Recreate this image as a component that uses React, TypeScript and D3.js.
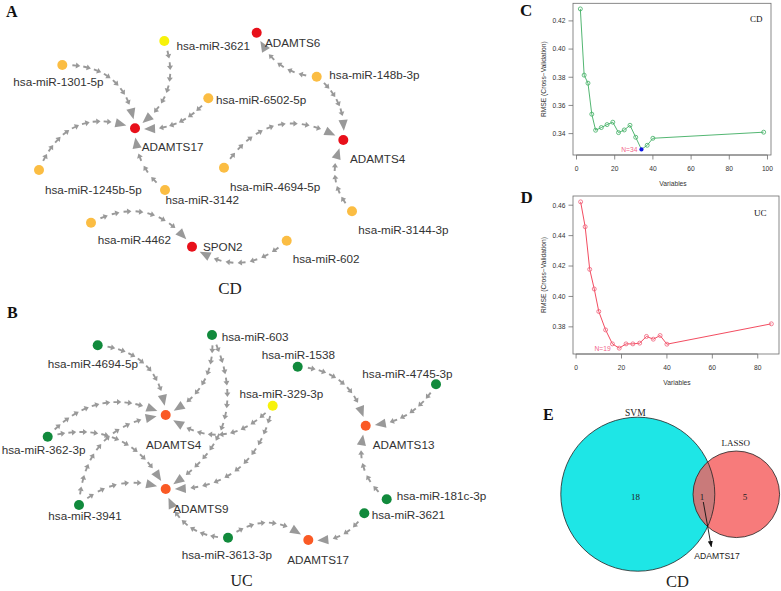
import React from 'react';
import * as d3 from 'd3';

// ---------------- DATA ----------------
// Panel A: CD network
const cdGenes = ['ADAMTS17', 'ADAMTS6', 'ADAMTS4', 'SPON2'];
const cdMirs = ['hsa-miR-3621', 'hsa-miR-1301-5p', 'hsa-miR-6502-5p', 'hsa-miR-1245b-5p', 'hsa-miR-3142',
  'hsa-miR-4462', 'hsa-miR-602', 'hsa-miR-148b-3p', 'hsa-miR-4694-5p', 'hsa-miR-3144-3p'];
const cdYellow = ['hsa-miR-3621'];
const cdEdges: [string, string][] = [
  ['hsa-miR-1301-5p', 'ADAMTS17'], ['hsa-miR-3621', 'ADAMTS17'], ['hsa-miR-6502-5p', 'ADAMTS17'],
  ['hsa-miR-1245b-5p', 'ADAMTS17'], ['hsa-miR-3142', 'ADAMTS17'], ['hsa-miR-4462', 'SPON2'],
  ['hsa-miR-602', 'SPON2'], ['hsa-miR-148b-3p', 'ADAMTS6'], ['hsa-miR-148b-3p', 'ADAMTS4'],
  ['hsa-miR-4694-5p', 'ADAMTS4'], ['hsa-miR-3144-3p', 'ADAMTS4'],
];

// Panel B: UC network
const ucGenes = ['ADAMTS4', 'ADAMTS9', 'ADAMTS13', 'ADAMTS17'];
const ucMirs = ['hsa-miR-4694-5p', 'hsa-miR-603', 'hsa-miR-362-3p', 'hsa-miR-3941', 'hsa-miR-329-3p',
  'hsa-miR-1538', 'hsa-miR-4745-3p', 'hsa-miR-181c-3p', 'hsa-miR-3621', 'hsa-miR-3613-3p'];
const ucYellow = ['hsa-miR-329-3p'];
const ucEdges: [string, string][] = [
  ['hsa-miR-4694-5p', 'ADAMTS4'], ['hsa-miR-603', 'ADAMTS4'], ['hsa-miR-603', 'ADAMTS9'],
  ['hsa-miR-362-3p', 'ADAMTS4'], ['hsa-miR-362-3p', 'ADAMTS9'], ['hsa-miR-3941', 'ADAMTS4'],
  ['hsa-miR-3941', 'ADAMTS9'], ['hsa-miR-329-3p', 'ADAMTS4'], ['hsa-miR-329-3p', 'ADAMTS9'],
  ['hsa-miR-1538', 'ADAMTS13'], ['hsa-miR-4745-3p', 'ADAMTS13'], ['hsa-miR-181c-3p', 'ADAMTS13'],
  ['hsa-miR-3621', 'ADAMTS17'], ['hsa-miR-3613-3p', 'ADAMTS9'], ['hsa-miR-3613-3p', 'ADAMTS17'],
];

// Panel C: CD RFE curve
const cVars = [2, 4, 6, 8, 10, 13, 16, 19, 22, 25, 28, 31, 34, 37, 40, 98];
const cRmse = [0.4285, 0.3815, 0.3758, 0.3538, 0.3424, 0.3443, 0.3464, 0.3481, 0.3407, 0.3426, 0.3459,
  0.3374, 0.3288, 0.3317, 0.3367, 0.3410];
const cBest = 34;
const cXTicks = [0, 20, 40, 60, 80, 100];
const cYTicks = [0.34, 0.36, 0.38, 0.40, 0.42];

// Panel D: UC RFE curve
const dVars = [2, 4, 6, 8, 10, 13, 16, 19, 22, 25, 28, 31, 34, 37, 40, 86];
const dRmse = [0.4622, 0.4458, 0.4178, 0.4049, 0.3901, 0.3780, 0.3688, 0.3660, 0.3688, 0.3688, 0.3693,
  0.3737, 0.3719, 0.3743, 0.3686, 0.3820];
const dBest = 19;
const dXTicks = [0, 20, 40, 60, 80];
const dYTicks = [0.38, 0.40, 0.42, 0.44, 0.46];

// Panel E: Venn
const vennSets = ['SVM', 'LASSO'];
const vennOnly = [18, 5];
const vennShared = 1;
const vennSharedGene = 'ADAMTS17';

// ---------------- LAYOUT ----------------
// node: [x, y, labelX, labelBaseline]
const cdLayout: Record<string, number[]> = {
  'ADAMTS17': [135, 128.3, 141.7, 151],
  'hsa-miR-3621': [164.3, 41, 176.5, 50],
  'hsa-miR-1301-5p': [62.3, 65, 13.3, 86],
  'hsa-miR-6502-5p': [208.3, 98.3, 216, 104],
  'hsa-miR-1245b-5p': [39, 170, 45, 193.5],
  'hsa-miR-3142': [165, 190, 165.5, 204],
  'hsa-miR-4462': [91, 222.7, 97.7, 244],
  'SPON2': [192, 246.7, 203, 251],
  'hsa-miR-4694-5p': [224, 167.7, 230, 191],
  'ADAMTS6': [256.7, 32.7, 265, 46.5],
  'hsa-miR-148b-3p': [316.7, 76.7, 329.3, 79],
  'ADAMTS4': [343.3, 140, 350, 162.5],
  'hsa-miR-3144-3p': [352, 211.3, 358.3, 234],
  'hsa-miR-602': [286.7, 240.7, 292.7, 263],
};
const cdBend: Record<string, number> = {
  'hsa-miR-1301-5p>ADAMTS17': -0.45, 'hsa-miR-3621>ADAMTS17': -0.4, 'hsa-miR-6502-5p>ADAMTS17': -0.28,
  'hsa-miR-1245b-5p>ADAMTS17': -0.48, 'hsa-miR-3142>ADAMTS17': -0.25, 'hsa-miR-4462>SPON2': -0.43,
  'hsa-miR-602>SPON2': -0.4, 'hsa-miR-148b-3p>ADAMTS6': -0.32, 'hsa-miR-148b-3p>ADAMTS4': -0.28,
  'hsa-miR-4694-5p>ADAMTS4': -0.48, 'hsa-miR-3144-3p>ADAMTS4': -0.35,
};
const ucLayout: Record<string, number[]> = {
  'ADAMTS4': [165.7, 415, 146, 448.5],
  'ADAMTS9': [165.7, 489, 173.3, 512.5],
  'hsa-miR-4694-5p': [97.7, 345.3, 47.7, 368],
  'hsa-miR-603': [212, 335, 221.7, 341],
  'hsa-miR-362-3p': [47.7, 436.7, 1.7, 453.5],
  'hsa-miR-3941': [79, 505, 48.3, 520],
  'hsa-miR-3613-3p': [228, 537.7, 181.7, 559],
  'hsa-miR-1538': [297.7, 366.7, 261.7, 359],
  'hsa-miR-329-3p': [272.7, 405.7, 239.5, 397.5],
  'hsa-miR-4745-3p': [436, 384.3, 362.3, 377.5],
  'ADAMTS13': [365.7, 425.7, 372.7, 448.5],
  'hsa-miR-181c-3p': [386.7, 499.3, 396.7, 500],
  'hsa-miR-3621': [364.3, 513.3, 371.7, 519],
  'ADAMTS17': [308.3, 540, 287.3, 563.5],
};
const ucBend: Record<string, number> = {
  'hsa-miR-4694-5p>ADAMTS4': -0.42, 'hsa-miR-603>ADAMTS4': -0.35, 'hsa-miR-603>ADAMTS9': -0.45,
  'hsa-miR-362-3p>ADAMTS4': -0.38, 'hsa-miR-362-3p>ADAMTS9': -0.4, 'hsa-miR-3941>ADAMTS4': -0.42,
  'hsa-miR-3941>ADAMTS9': -0.3, 'hsa-miR-329-3p>ADAMTS4': -0.45, 'hsa-miR-329-3p>ADAMTS9': -0.42,
  'hsa-miR-1538>ADAMTS13': -0.38, 'hsa-miR-4745-3p>ADAMTS13': -0.28, 'hsa-miR-181c-3p>ADAMTS13': -0.35,
  'hsa-miR-3621>ADAMTS17': -0.32, 'hsa-miR-3613-3p>ADAMTS9': -0.38, 'hsa-miR-3613-3p>ADAMTS17': -0.4,
};

const SANS = '"Liberation Sans", Arial, Helvetica, sans-serif';
const SERIF = '"Liberation Serif", "Times New Roman", serif';
const EDGE = '#999999';
const NODE_R = 5;

// ---------------- EDGE ----------------
function Edge({ s, t, bend }: { s: number[]; t: number[]; bend: number }) {
  const [sx, sy] = s, [tx, ty] = t;
  const dx = tx - sx, dy = ty - sy;
  const len = Math.hypot(dx, dy);
  const px = -dy / len, py = dx / len;
  const cx = (sx + tx) / 2 + px * bend * len;
  const cy = (sy + ty) / 2 + py * bend * len;
  const N = 400;
  const pts: { x: number; y: number; l: number }[] = [];
  let acc = 0;
  for (let i = 0; i <= N; i++) {
    const u = i / N;
    const x = (1 - u) * (1 - u) * sx + 2 * (1 - u) * u * cx + u * u * tx;
    const y = (1 - u) * (1 - u) * sy + 2 * (1 - u) * u * cy + u * u * ty;
    if (i > 0) acc += Math.hypot(x - pts[i - 1].x, y - pts[i - 1].y);
    pts.push({ x, y, l: acc });
  }
  let startL = 0, endL = acc;
  for (const p of pts) { if (Math.hypot(p.x - sx, p.y - sy) >= NODE_R + 3) { startL = p.l; break; } }
  for (let i = pts.length - 1; i >= 0; i--) {
    const p = pts[i];
    if (Math.hypot(p.x - tx, p.y - ty) >= NODE_R + 4) { endL = p.l; break; }
  }
  const at = (l: number) => {
    const i = Math.max(1, Math.min(N, d3.bisector((p: any) => p.l).left(pts, l)));
    const a = pts[i - 1], b = pts[i];
    const f = b.l === a.l ? 0 : (l - a.l) / (b.l - a.l);
    return { x: a.x + (b.x - a.x) * f, y: a.y + (b.y - a.y) * f, ang: Math.atan2(b.y - a.y, b.x - a.x) };
  };
  const headLen = 11, headW = 4.6;
  const tip = at(endL);
  const base = at(endL - headLen);
  const ang = Math.atan2(tip.y - base.y, tip.x - base.x);
  const bx = tip.x - Math.cos(ang) * headLen, by = tip.y - Math.sin(ang) * headLen;
  const head = `M${tip.x},${tip.y}L${bx - Math.sin(ang) * headW},${by + Math.cos(ang) * headW}L${bx + Math.sin(ang) * headW},${by - Math.cos(ang) * headW}Z`;
  const avail = endL - headLen - 3 - startL;
  const spacing = 11.5;
  const n = Math.max(1, Math.round(avail / spacing));
  const step = avail / n;
  const glyphs: React.ReactNode[] = [];
  for (let k = 0; k < n; k++) {
    const l = startL + step * (k + 0.5);
    const p = at(l);
    const deg = (p.ang * 180) / Math.PI;
    glyphs.push(
      <g key={k} transform={`translate(${p.x},${p.y}) rotate(${deg})`}>
        <line x1={-3.6} y1={0} x2={0.5} y2={0} stroke={EDGE} strokeWidth={1.9} />
        <path d="M0,-3L4.3,0L0,3Z" fill={EDGE} />
      </g>
    );
  }
  return (
    <g>
      {glyphs}
      <path d={head} fill={EDGE} />
    </g>
  );
}

function Network({ genes, mirs, yellow, edges, layout, bends, geneColor, mirColor }: any) {
  const nodes = [...genes, ...mirs];
  return (
    <g>
      {edges.map(([f, t]: [string, string], i: number) => (
        <Edge key={i} s={layout[f]} t={layout[t]} bend={bends[`${f}>${t}`] ?? -0.38} />
      ))}
      {nodes.map((id: string) => {
        const [x, y] = layout[id];
        const fill = genes.includes(id) ? geneColor : yellow.includes(id) ? '#f7f20a' : mirColor;
        return <circle key={id} cx={x} cy={y} r={NODE_R} fill={fill} />;
      })}
      {nodes.map((id: string) => {
        const [, , lx, ly] = layout[id];
        return (
          <text key={id + 't'} x={lx} y={ly} fontFamily={SANS} fontSize={11.7} fill="#333">{id}</text>
        );
      })}
    </g>
  );
}

// ---------------- R-style line plot ----------------
function RPlot({ box, xs, ys, xTicks, yTicks, color, ptColor, best, bestFill, tag, tagPos }: any) {
  const [L, T, R, B] = box;
  const pad = (ext: number[]) => { const s = ext[1] - ext[0]; return [ext[0] - 0.04 * s, ext[1] + 0.04 * s]; };
  const x = d3.scaleLinear().domain(pad(d3.extent(xs) as number[])).range([L, R]);
  const y = d3.scaleLinear().domain(pad(d3.extent(ys) as number[])).range([B, T]);
  const pts = xs.map((v: number, i: number) => [v, ys[i]]);
  const line = d3.line<number[]>().x(d => x(d[0])).y(d => y(d[1]));
  const bi = xs.indexOf(best);
  const axCol = '#6d6d6d';
  const fs = 6.7;
  return (
    <g>
      <rect x={L} y={T} width={R - L} height={B - T} fill="none" stroke={axCol} strokeWidth={0.8} />
      <line x1={x(xTicks[0])} x2={x(xTicks[xTicks.length - 1])} y1={B} y2={B} stroke={axCol} strokeWidth={0.8} />
      {xTicks.map((v: number) => (
        <g key={v}>
          <line x1={x(v)} x2={x(v)} y1={B} y2={B + 4.5} stroke={axCol} strokeWidth={0.8} />
          <text x={x(v)} y={B + 15.5} textAnchor="middle" fontFamily={SANS} fontSize={fs} fill="#333">{v}</text>
        </g>
      ))}
      {yTicks.map((v: number) => (
        <g key={v}>
          <line x1={L - 4.5} x2={L} y1={y(v)} y2={y(v)} stroke={axCol} strokeWidth={0.8} />
          <text x={L - 7.5} y={y(v) + 2.4} textAnchor="end" fontFamily={SANS} fontSize={fs} fill="#333">{d3.format('.2f')(v)}</text>
        </g>
      ))}
      <text x={(L + R) / 2 + 1} y={B + 31} textAnchor="middle" fontFamily={SANS} fontSize={fs} fill="#333">Variables</text>
      <text transform={`translate(${L - 27.5},${(T + B) / 2}) rotate(-90)`} textAnchor="middle" fontFamily={SANS} fontSize={fs} fill="#333">RMSE (Cross−Validation)</text>
      <path d={line(pts) || ''} fill="none" stroke={color} strokeWidth={0.9} />
      {pts.map((p: number[], i: number) => (
        i === bi && bestFill ? null :
          <circle key={i} cx={x(p[0])} cy={y(p[1])} r={2} fill="none" stroke={ptColor} strokeWidth={0.8} />
      ))}
      {bestFill ? <circle cx={x(best)} cy={y(ys[bi])} r={2.1} fill={bestFill} /> : null}
      <text x={x(best) - (bestFill ? 4 : 8.5)} y={y(ys[bi]) + 2.4} textAnchor="end" fontFamily={SANS} fontSize={fs} fill="#f26489">{`N=${best}`}</text>
      <text x={tagPos[0]} y={tagPos[1]} fontFamily={SERIF} fontSize={9} fill="#111">{tag}</text>
    </g>
  );
}

// ---------------- Venn ----------------
function Venn() {
  const k = 77 / Math.sqrt(vennOnly[0] + vennShared);
  const r1 = k * Math.sqrt(vennOnly[0] + vennShared);
  const r2 = k * Math.sqrt(vennOnly[1] + vennShared);
  const c1 = [637.8, 494.2];
  const c2 = [736.3, 494.3];
  return (
    <g>
      <defs>
        <clipPath id="svmClip"><circle cx={c1[0]} cy={c1[1]} r={r1} /></clipPath>
        <marker id="vArrow" viewBox="0 0 10 10" refX="9" refY="5" markerWidth="7" markerHeight="7" orient="auto">
          <path d="M0,1L10,5L0,9Z" fill="#111" />
        </marker>
      </defs>
      <circle cx={c1[0]} cy={c1[1]} r={r1} fill="#1ee6e6" />
      <circle cx={c2[0]} cy={c2[1]} r={r2} fill="#f77b7b" />
      <circle cx={c2[0]} cy={c2[1]} r={r2} fill="#c97a7a" clipPath="url(#svmClip)" />
      <circle cx={c1[0]} cy={c1[1]} r={r1} fill="none" stroke="#222" strokeWidth={0.8} />
      <circle cx={c2[0]} cy={c2[1]} r={r2} fill="none" stroke="#222" strokeWidth={0.8} />
      <text x={c1[0] - 2.5} y={c1[1] - r1 - 1.5} textAnchor="middle" fontFamily={SERIF} fontSize={9.5} fill="#222">{vennSets[0]}</text>
      <text x={c2[0] - 0.5} y={c2[1] - r2 - 5} textAnchor="middle" fontFamily={SERIF} fontSize={9} fill="#222">{vennSets[1]}</text>
      <text x={c1[0] - 2.3} y={c1[1] + 5.5} textAnchor="middle" fontFamily={SERIF} fontSize={9} fill="#222">{vennOnly[0]}</text>
      <text x={c2[0] + 8.7} y={c2[1] + 5.5} textAnchor="middle" fontFamily={SERIF} fontSize={9} fill="#222">{vennOnly[1]}</text>
      <text x={702} y={c1[1] + 5.5} textAnchor="middle" fontFamily={SERIF} fontSize={9} fill="#222">{vennShared}</text>
      <line x1={703.3} y1={502} x2={711.3} y2={546.7} stroke="#111" strokeWidth={0.9} markerEnd="url(#vArrow)" />
      <text x={694.3} y={558.5} fontFamily={SANS} fontSize={8.6} fill="#222">{vennSharedGene}</text>
    </g>
  );
}

export default function App() {
  return (
    <svg width={781} height={591} viewBox="0 0 781 591"
      style={{ position: 'absolute', left: 0, top: 0, background: '#fff' }}>
      <rect x={0} y={0} width={781} height={591} fill="#fff" />
      <text x={6} y={17} fontFamily={SERIF} fontWeight="bold" fontSize={16} fill="#111">A</text>
      <text x={7} y={317.5} fontFamily={SERIF} fontWeight="bold" fontSize={16} fill="#111">B</text>
      <text x={520} y={16} fontFamily={SERIF} fontWeight="bold" fontSize={17} fill="#111">C</text>
      <text x={520.5} y={203} fontFamily={SERIF} fontWeight="bold" fontSize={17} fill="#111">D</text>
      <text x={543} y={419.5} fontFamily={SERIF} fontWeight="bold" fontSize={16} fill="#111">E</text>

      <Network genes={cdGenes} mirs={cdMirs} yellow={cdYellow} edges={cdEdges} layout={cdLayout}
        bends={cdBend} geneColor="#e8101a" mirColor="#fbbd43" />
      <text x={230} y={294} textAnchor="middle" fontFamily={SERIF} fontSize={17} fill="#222">CD</text>

      <Network genes={ucGenes} mirs={ucMirs} yellow={ucYellow} edges={ucEdges} layout={ucLayout}
        bends={ucBend} geneColor="#fa5a25" mirColor="#118a3c" />
      <text x={241.5} y={586} textAnchor="middle" fontFamily={SERIF} fontSize={16} fill="#222">UC</text>

      <RPlot box={[573, 3.3, 771, 155]} xs={cVars} ys={cRmse} xTicks={cXTicks} yTicks={cYTicks}
        color="#3fae62" ptColor="#3fae62" best={cBest} bestFill="#0a14e6" tag="CD" tagPos={[750, 21.5]} />
      <RPlot box={[573, 196, 779, 354]} xs={dVars} ys={dRmse} xTicks={dXTicks} yTicks={dYTicks}
        color="#f0384e" ptColor="#f0607a" best={dBest} bestFill={null} tag="UC" tagPos={[754, 215.5]} />

      <Venn />
      <text x={677.5} y={587} textAnchor="middle" fontFamily={SERIF} fontSize={16.5} fill="#222">CD</text>
    </svg>
  );
}
